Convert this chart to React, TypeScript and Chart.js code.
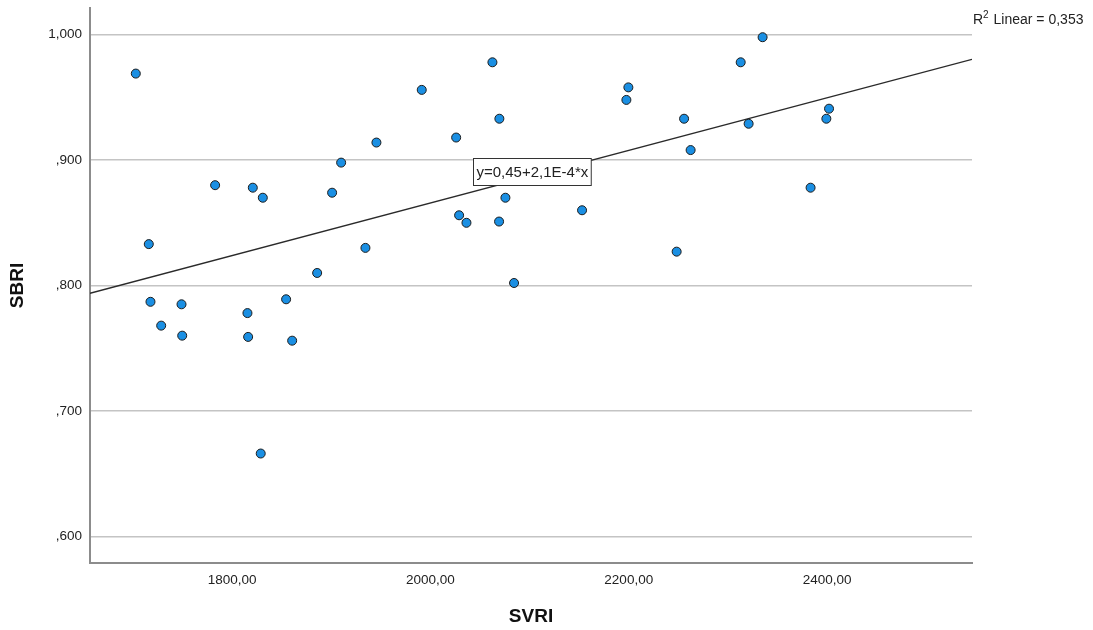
import { useEffect, useRef } from "react";
import { Chart, registerables } from "chart.js";

Chart.register(...registerables);

// SVRI (x) and SBRI (y) per case
const svri = [
  1702.8, 1715.9, 1717.6, 1728.4, 1748.9, 1749.6, 1782.8, 1815.4, 1816.1, 1820.8,
  1828.8, 1830.9, 1854.4, 1860.5, 1885.7, 1900.8, 1909.9, 1934.4, 1945.5, 1991.2,
  2025.9, 2028.9, 2036.3, 2062.5, 2069.2, 2069.5, 2075.6, 2084.3, 2152.9, 2197.6,
  2199.6, 2248.3, 2255.8, 2262.4, 2312.9, 2320.9, 2335.0, 2383.4, 2399.3, 2402.0,
];
const sbri = [
  0.969, 0.833, 0.787, 0.768, 0.785, 0.760, 0.880, 0.778, 0.759, 0.878,
  0.666, 0.870, 0.789, 0.756, 0.810, 0.874, 0.898, 0.830, 0.914, 0.956,
  0.918, 0.856, 0.850, 0.978, 0.851, 0.933, 0.870, 0.802, 0.860, 0.948,
  0.958, 0.827, 0.933, 0.908, 0.978, 0.929, 0.998, 0.878, 0.933, 0.941,
];

const xTicks = [1800, 2000, 2200, 2400];
const yTicks = [0.6, 0.7, 0.8, 0.9, 1.0];
const xRange = [1656.6, 2546.2];
const yRange = [0.5787, 1.0213];

// Linear fit line and its statistics
const fitIntercept = 0.4463;
const fitSlope = 2.0976e-4;
const rSquared = 0.353;
const fitLabelAt = { x: 2102, y: 0.891 };

const FONT = '"Liberation Sans", Arial, Helvetica, sans-serif';
const TEXT = "#222222";

const fmtX = (v: number) => v.toFixed(2).replace(".", ",");
const fmtY = (v: number) => {
  const s = v.toFixed(3).replace(".", ",");
  return s.startsWith("0") ? s.slice(1) : s;
};
const fmtDec = (v: number, d: number) => v.toFixed(d).replace(".", ",");
const fmtSci = (v: number) =>
  v.toExponential(1).replace(".", ",").replace("e", "E");

const fitAt = (x: number) => fitIntercept + fitSlope * x;

const annotations = {
  id: "fitAnnotations",
  afterDatasetsDraw(chart: any) {
    const { ctx, chartArea, scales } = chart;
    ctx.save();

    // equation label box on the fit line
    const eq = `y=${fmtDec(fitIntercept, 2)}+${fmtSci(fitSlope)}*x`;
    ctx.font = `15px ${FONT}`;
    const tw = ctx.measureText(eq).width;
    const cx = scales.x.getPixelForValue(fitLabelAt.x);
    const cy = scales.y.getPixelForValue(fitLabelAt.y);
    const w = tw + 6;
    const h = 27;
    const bx = Math.round(cx - w / 2) + 0.5;
    const by = Math.round(cy - h / 2) + 0.5;
    ctx.fillStyle = "#ffffff";
    ctx.fillRect(bx, by, w, h);
    ctx.strokeStyle = "#333333";
    ctx.lineWidth = 1;
    ctx.strokeRect(bx, by, w, h);
    ctx.fillStyle = TEXT;
    ctx.textAlign = "left";
    ctx.textBaseline = "middle";
    ctx.fillText(eq, bx + 3, by + h / 2 + 1);

    // R² legend text at the top right
    let x = chartArea.right + 1;
    const y = chartArea.top + 12;
    ctx.font = `14px ${FONT}`;
    ctx.fillText("R", x, y);
    x += ctx.measureText("R").width;
    ctx.font = `10px ${FONT}`;
    ctx.fillText("2", x, y - 5);
    x += ctx.measureText("2").width + 1;
    ctx.font = `14px ${FONT}`;
    ctx.fillText(` Linear = ${fmtDec(rSquared, 3)}`, x, y);

    ctx.restore();
  },
};

export default function App() {
  const canvasRef = useRef<HTMLCanvasElement | null>(null);

  useEffect(() => {
    const canvas = canvasRef.current;
    if (!canvas) return;

    const chart = new Chart(canvas, {
      type: "scatter",
      data: {
        datasets: [
          {
            label: "SBRI",
            data: svri.map((x, i) => ({ x, y: sbri[i] })),
            backgroundColor: "#1a8fe3",
            borderColor: "#1c1c1c",
            borderWidth: 1,
            pointRadius: 4.5,
            order: 0,
          },
          {
            label: "Linear",
            data: xRange.map((x) => ({ x, y: fitAt(x) })),
            showLine: true,
            borderColor: "#2a2a2a",
            borderWidth: 1.3,
            pointRadius: 0,
            order: 1,
          },
        ],
      },
      options: {
        responsive: false,
        animation: false,
        devicePixelRatio: 1,
        layout: { padding: { left: 0, top: 8, right: 121, bottom: 0 } },
        plugins: {
          legend: { display: false },
          tooltip: { enabled: false },
        },
        scales: {
          x: {
            type: "linear",
            min: xRange[0],
            max: xRange[1],
            afterBuildTicks: (s: any) => {
              s.ticks = xTicks.map((value) => ({ value }));
            },
            afterFit: (s: any) => {
              s.height = 67;
              s.paddingLeft = 0;
              s.paddingRight = 0;
            },
            grid: { display: false, drawTicks: false },
            border: { display: true, color: "#8c8c8c", width: 2 },
            ticks: {
              padding: 9,
              color: TEXT,
              font: { family: FONT, size: 13.5 },
              maxRotation: 0,
              autoSkip: false,
              callback: (v: any) => fmtX(Number(v)),
            },
            title: {
              display: true,
              text: "SVRI",
              color: "#111111",
              font: { family: FONT, size: 19, weight: "bold" },
              padding: { top: 0, bottom: 2 },
            },
          },
          y: {
            type: "linear",
            min: yRange[0],
            max: yRange[1],
            afterBuildTicks: (s: any) => {
              s.ticks = yTicks.map((value) => ({ value }));
            },
            afterFit: (s: any) => {
              s.width = 90;
              s.paddingTop = 0;
              s.paddingBottom = 0;
            },
            grid: { color: "#c4c4c4", lineWidth: 1.5, drawTicks: false },
            border: { display: true, color: "#8c8c8c", width: 2 },
            ticks: {
              padding: 8,
              color: TEXT,
              font: { family: FONT, size: 13.5 },
              autoSkip: false,
              callback: (v: any) => fmtY(Number(v)),
            },
            title: {
              display: true,
              text: "SBRI",
              color: "#111111",
              font: { family: FONT, size: 19, weight: "bold" },
              padding: { top: 6, bottom: 0 },
            },
          },
        },
      },
      plugins: [annotations],
    } as any);

    return () => chart.destroy();
  }, []);

  return (
    <div
      style={{
        position: "fixed",
        left: 0,
        top: 0,
        width: 1093,
        height: 630,
        background: "#ffffff",
      }}
    >
      <canvas ref={canvasRef} width={1093} height={630} style={{ display: "block" }} />
    </div>
  );
}
